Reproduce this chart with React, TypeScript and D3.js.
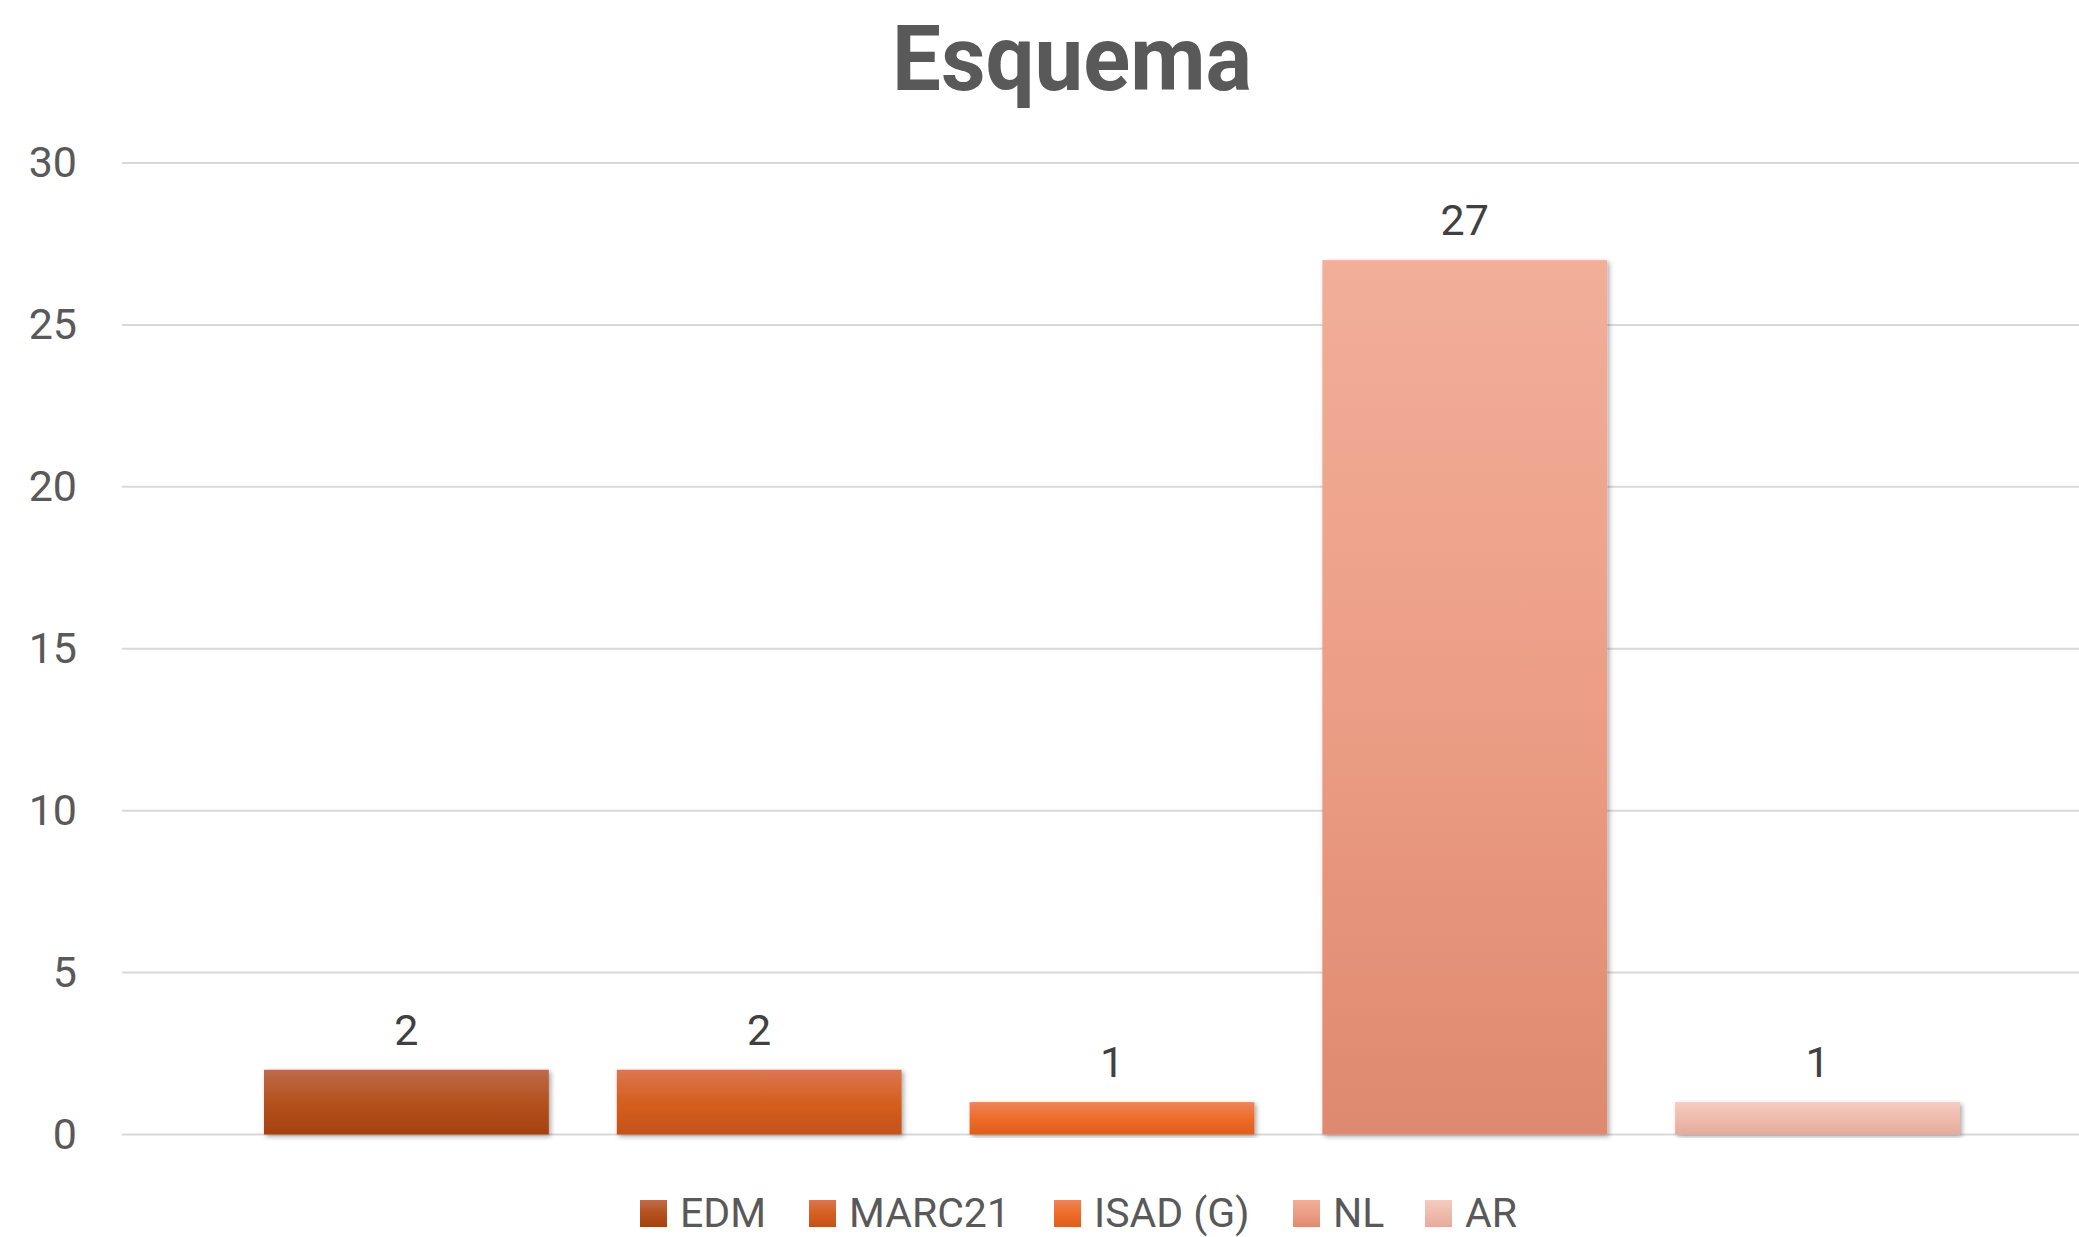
import React from "react";
import * as d3 from "d3";

const series = ["EDM", "MARC21", "ISAD (G)", "NL", "AR"];
const values = [2, 2, 1, 27, 1];
const yTicks = [0, 5, 10, 15, 20, 25, 30];
const gradTop = ["#BE6B4C", "#DB7652", "#EF845A", "#F2AE99", "#F5CCC0"];
const gradMid = ["#B4511E", "#D5601F", "#EE6C28", "#EC9E86", "#EFBBAD"];
const gradBot = ["#A6410F", "#C4511A", "#E05E1C", "#DE896F", "#E4AB9B"];
const legendX = [640, 809, 1054, 1293, 1425];

const W = 2079;
const H = 1237;

export default function App() {
  const y = d3.scaleLinear().domain([0, 30]).range([1134.5, 163]);
  const x = d3
    .scaleBand<string>()
    .domain(series)
    .range([264, 1960])
    .paddingInner(68 / 353)
    .paddingOuter(0);
  const font = "Roboto, 'Liberation Sans', Arial, sans-serif";

  return (
    <svg
      width={W}
      height={H}
      style={{ position: "absolute", left: 0, top: 0, display: "block", background: "#fff" }}
    >
      <defs>
        {series.map((s, i) => (
          <linearGradient key={s} id={`g${i}`} x1="0" y1="0" x2="0" y2="1">
            <stop offset="0" stopColor={gradTop[i]} />
            <stop offset="0.5" stopColor={gradMid[i]} />
            <stop offset="1" stopColor={gradBot[i]} />
          </linearGradient>
        ))}
        <filter id="shadow" x="-5%" y="-5%" width="115%" height="115%">
          <feDropShadow dx="2" dy="2" stdDeviation="2.5" floodColor="#000" floodOpacity="0.35" />
        </filter>
      </defs>
      <rect x={0} y={0} width={W} height={H} fill="#fff" />
      <text
        x={1072}
        y={90}
        textAnchor="middle"
        fontFamily={font}
        fontWeight="bold"
        fontSize={90}
        fill="#595959"
        textLength={360}
        lengthAdjust="spacingAndGlyphs"
      >
        Esquema
      </text>
      {yTicks.map((t) => (
        <g key={t}>
          <line x1={122} x2={W} y1={y(t)} y2={y(t)} stroke="#D9D9D9" strokeWidth={2} />
          <text
            x={77}
            y={y(t) + 14}
            textAnchor="end"
            fontFamily={font}
            fontSize={43}
            fill="#595959"
          >
            {t}
          </text>
        </g>
      ))}
      {series.map((s, i) => (
        <g key={s}>
          <rect
            x={x(s)}
            y={y(values[i])}
            width={x.bandwidth()}
            height={y(0) - y(values[i])}
            fill={`url(#g${i})`}
            filter="url(#shadow)"
          />
          <text
            x={(x(s) as number) + x.bandwidth() / 2}
            y={y(values[i]) - 25}
            textAnchor="middle"
            fontFamily={font}
            fontSize={43}
            fill="#404040"
          >
            {values[i]}
          </text>
        </g>
      ))}
      {series.map((s, i) => (
        <g key={"l" + s}>
          <rect x={legendX[i]} y={1200} width={27} height={27} fill={`url(#g${i})`} />
          <text
            x={legendX[i] + 40}
            y={1227}
            fontFamily={font}
            fontSize={41}
            fill="#595959"
          >
            {s}
          </text>
        </g>
      ))}
    </svg>
  );
}
